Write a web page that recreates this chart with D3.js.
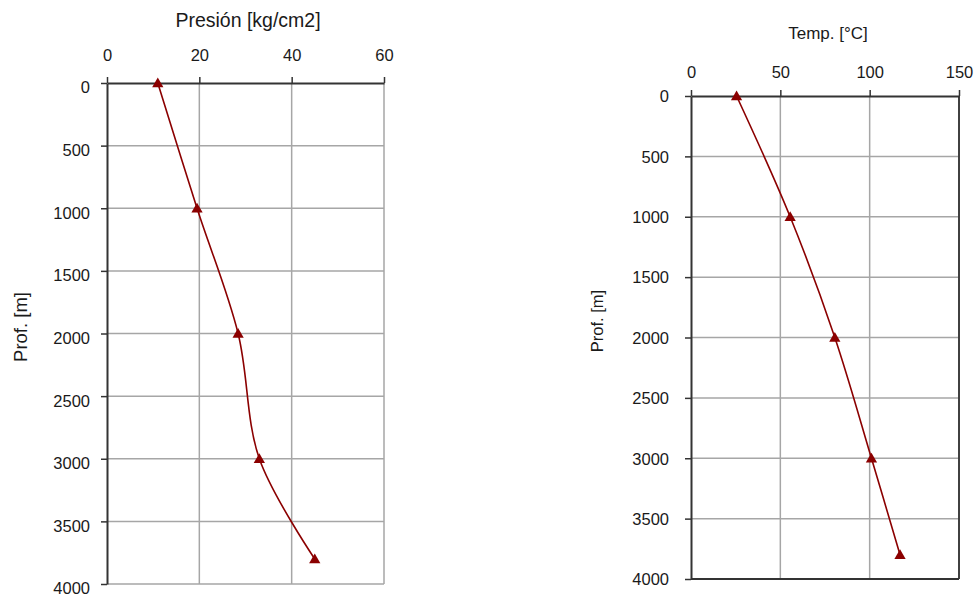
<!DOCTYPE html>
<html>
<head>
<meta charset="utf-8">
<script src="https://cdn.jsdelivr.net/npm/d3@7"></script>
<style>
  body { margin: 0; background: #fff; }
  svg { display: block; font-family: "Liberation Sans", Arial, sans-serif; }
</style>
</head>
<body>
<svg id="chart" width="978" height="596"></svg>
<script>
// Data
const depths = [0, 1000, 2000, 3000, 3800];
const pressure = [11, 19.5, 28.4, 33, 45];
const temperature = [25.5, 55.5, 80.5, 101, 117];
const depthTicks = [0, 500, 1000, 1500, 2000, 2500, 3000, 3500, 4000];
const pressureTicks = [0, 20, 40, 60];
const tempTicks = [0, 50, 100, 150];

const svg = d3.select("#chart");
const lineColor = "#8b0000";
const gridColor = "#a6a6a6";
const axisColor = "#333";
const textColor = "#1a1a1a";

function panel(cfg) {
  const g = svg.append("g");
  const x = d3.scaleLinear().domain(cfg.xDomain).range([cfg.left, cfg.right]);
  const y = d3.scaleLinear().domain([0, 4000]).range([cfg.top, cfg.bottom]);

  // grid verticals
  g.append("g").selectAll("line").data(cfg.xTicks.slice(1)).join("line")
    .attr("x1", d => x(d)).attr("x2", d => x(d))
    .attr("y1", cfg.top).attr("y2", cfg.bottom)
    .attr("stroke", gridColor).attr("stroke-width", 1.5);
  // grid horizontals
  g.append("g").selectAll("line").data(depthTicks.slice(1)).join("line")
    .attr("x1", cfg.left).attr("x2", cfg.right)
    .attr("y1", d => y(d)).attr("y2", d => y(d))
    .attr("stroke", gridColor).attr("stroke-width", 1.5);

  if (cfg.frameDark) {
    g.append("line").attr("x1", cfg.right).attr("x2", cfg.right)
      .attr("y1", cfg.top).attr("y2", cfg.bottom)
      .attr("stroke", axisColor).attr("stroke-width", 1.8);
    g.append("line").attr("x1", cfg.left).attr("x2", cfg.right)
      .attr("y1", cfg.bottom).attr("y2", cfg.bottom)
      .attr("stroke", axisColor).attr("stroke-width", 1.8);
  }

  const fmt = d3.format("d");
  // top axis
  const ax = g.append("g").attr("transform", `translate(0,${cfg.top})`)
    .call(d3.axisTop(x).tickValues(cfg.xTicks).tickFormat(fmt).tickSize(6).tickPadding(cfg.xPad).tickSizeOuter(0));
  // left axis
  const ay = g.append("g").attr("transform", `translate(${cfg.left},0)`)
    .call(d3.axisLeft(y).tickValues(depthTicks).tickFormat(fmt).tickSize(6).tickPadding(cfg.yPad).tickSizeOuter(0));
  [ax, ay].forEach(a => {
    a.select(".domain").attr("stroke", axisColor).attr("stroke-width", 2);
    a.selectAll(".tick line").attr("stroke", axisColor).attr("stroke-width", 1.5);
    a.selectAll(".tick text").attr("fill", textColor)
      .attr("font-size", cfg.tickFont).attr("font-family", "Liberation Sans, Arial, sans-serif");
  });
  ay.selectAll(".tick text").attr("dy", cfg.yDy);

  // titles
  g.append("text").attr("x", cfg.titleX).attr("y", cfg.titleY)
    .attr("text-anchor", "middle").attr("font-size", cfg.titleFont).attr("fill", textColor)
    .text(cfg.title);
  g.append("text").attr("transform", `translate(${cfg.yTitleX},${cfg.yTitleY}) rotate(-90)`)
    .attr("text-anchor", "middle").attr("font-size", cfg.yTitleFont).attr("fill", textColor)
    .text("Prof. [m]");

  // line
  const pts = depths.map((d, i) => [cfg.values[i], d]);
  const line = d3.line().x(p => x(p[0])).y(p => y(p[1])).curve(d3.curveCatmullRom.alpha(0.5));
  g.append("path").datum(pts).attr("d", line)
    .attr("fill", "none").attr("stroke", lineColor).attr("stroke-width", 1.6);
  g.append("g").selectAll("path").data(pts).join("path")
    .attr("d", d3.symbol(d3.symbolTriangle, 55))
    .attr("transform", p => `translate(${x(p[0])},${y(p[1]) + 1})`)
    .attr("fill", lineColor);
}

panel({
  xDomain: [0, 60], xTicks: pressureTicks, values: pressure,
  left: 107, right: 384, top: 83, bottom: 584,
  xPad: 16, yPad: 11, yDy: "0.6em", tickFont: "16.5px",
  title: "Presión [kg/cm2]", titleX: 248, titleY: 27, titleFont: "19.5px",
  yTitleX: 27, yTitleY: 327, yTitleFont: "18.5px",
  frameDark: false
});

panel({
  xDomain: [0, 150], xTicks: tempTicks, values: temperature,
  left: 691, right: 959, top: 96, bottom: 579,
  xPad: 12, yPad: 16, yDy: "0.35em", tickFont: "16.5px",
  title: "Temp. [°C]", titleX: 828, titleY: 39, titleFont: "17px",
  yTitleX: 603, yTitleY: 321, yTitleFont: "16.5px",
  frameDark: true
});
</script>
</body>
</html>
